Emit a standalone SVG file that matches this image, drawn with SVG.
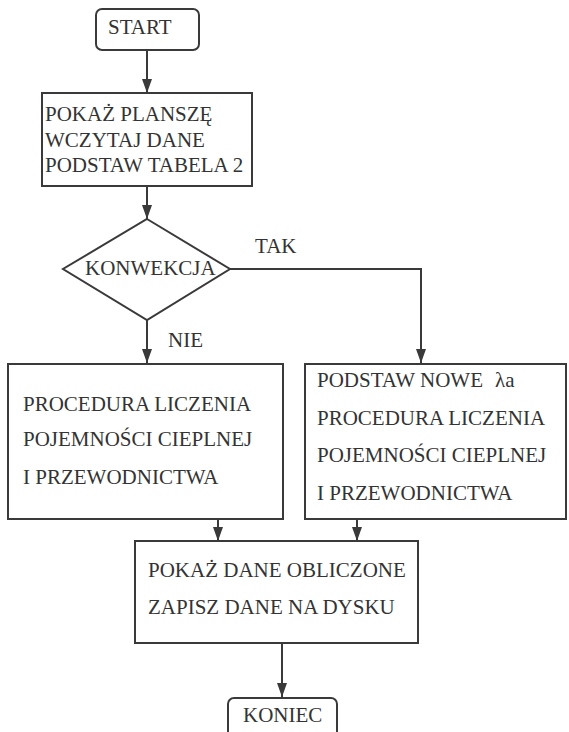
<svg xmlns="http://www.w3.org/2000/svg" width="569" height="732" viewBox="0 0 569 732">
<style>
.box{fill:#fff;stroke:#3a3a3a;stroke-width:2}
.t{font-family:'Liberation Serif','DejaVu Serif',serif;font-size:21px;fill:#333}
.c{fill:none;stroke:#3a3a3a;stroke-width:2}
</style>
<defs>
<marker id="arr" markerUnits="userSpaceOnUse" markerWidth="14" markerHeight="12" refX="14" refY="5" orient="auto">
<path d="M0,0 L14,5 L0,10 Z" fill="#3a3a3a"/>
</marker>
</defs>
<rect width="569" height="732" fill="#fff"/>
<g id="connectors">
<path class="c" d="M147,50 V93" marker-end="url(#arr)"/>
<path class="c" d="M147,186 V219" marker-end="url(#arr)"/>
<path class="c" d="M147,320 V363" marker-end="url(#arr)"/>
<path class="c" d="M230,269 H421 V363" marker-end="url(#arr)"/>
<path class="c" d="M218,519 V541" marker-end="url(#arr)"/>
<path class="c" d="M357,519 V541" marker-end="url(#arr)"/>
<path class="c" d="M282,643 V697" marker-end="url(#arr)"/>
</g>
<g id="start">
<rect class="box" x="96" y="9" width="103" height="41" rx="6"/>
<text class="t" x="108" y="34">START</text>
</g>
<g id="init">
<rect class="box" x="42" y="93" width="210" height="93"/>
<text class="t" x="45" y="121">POKAŻ PLANSZĘ</text>
<text class="t" x="45" y="147">WCZYTAJ DANE</text>
<text class="t" x="45" y="172">PODSTAW TABELA 2</text>
</g>
<g id="decision">
<path class="box" d="M147,219 L230,269 L147,320 L63,269 Z"/>
<text class="t" x="85" y="275">KONWEKCJA</text>
</g>
<g id="labels">
<text class="t" x="255" y="253">TAK</text>
<text class="t" x="168" y="347">NIE</text>
</g>
<g id="proc-left">
<rect class="box" x="8" y="364" width="275" height="155"/>
<text class="t" x="23" y="411">PROCEDURA LICZENIA</text>
<text class="t" x="23" y="446">POJEMNOŚCI CIEPLNEJ</text>
<text class="t" x="23" y="484">I PRZEWODNICTWA</text>
</g>
<g id="proc-right">
<rect class="box" x="305" y="364" width="261" height="155"/>
<text class="t" x="317" y="387">PODSTAW NOWE<tspan dx="12">λa</tspan></text>
<text class="t" x="317" y="425">PROCEDURA LICZENIA</text>
<text class="t" x="317" y="462">POJEMNOŚCI CIEPLNEJ</text>
<text class="t" x="317" y="500">I PRZEWODNICTWA</text>
</g>
<g id="output">
<rect class="box" x="135" y="541" width="283" height="102"/>
<text class="t" x="148" y="577">POKAŻ DANE OBLICZONE</text>
<text class="t" x="148" y="614">ZAPISZ DANE NA DYSKU</text>
</g>
<g id="end">
<rect class="box" x="228" y="698" width="109" height="50" rx="6"/>
<text class="t" x="243" y="722">KONIEC</text>
</g>
</svg>
